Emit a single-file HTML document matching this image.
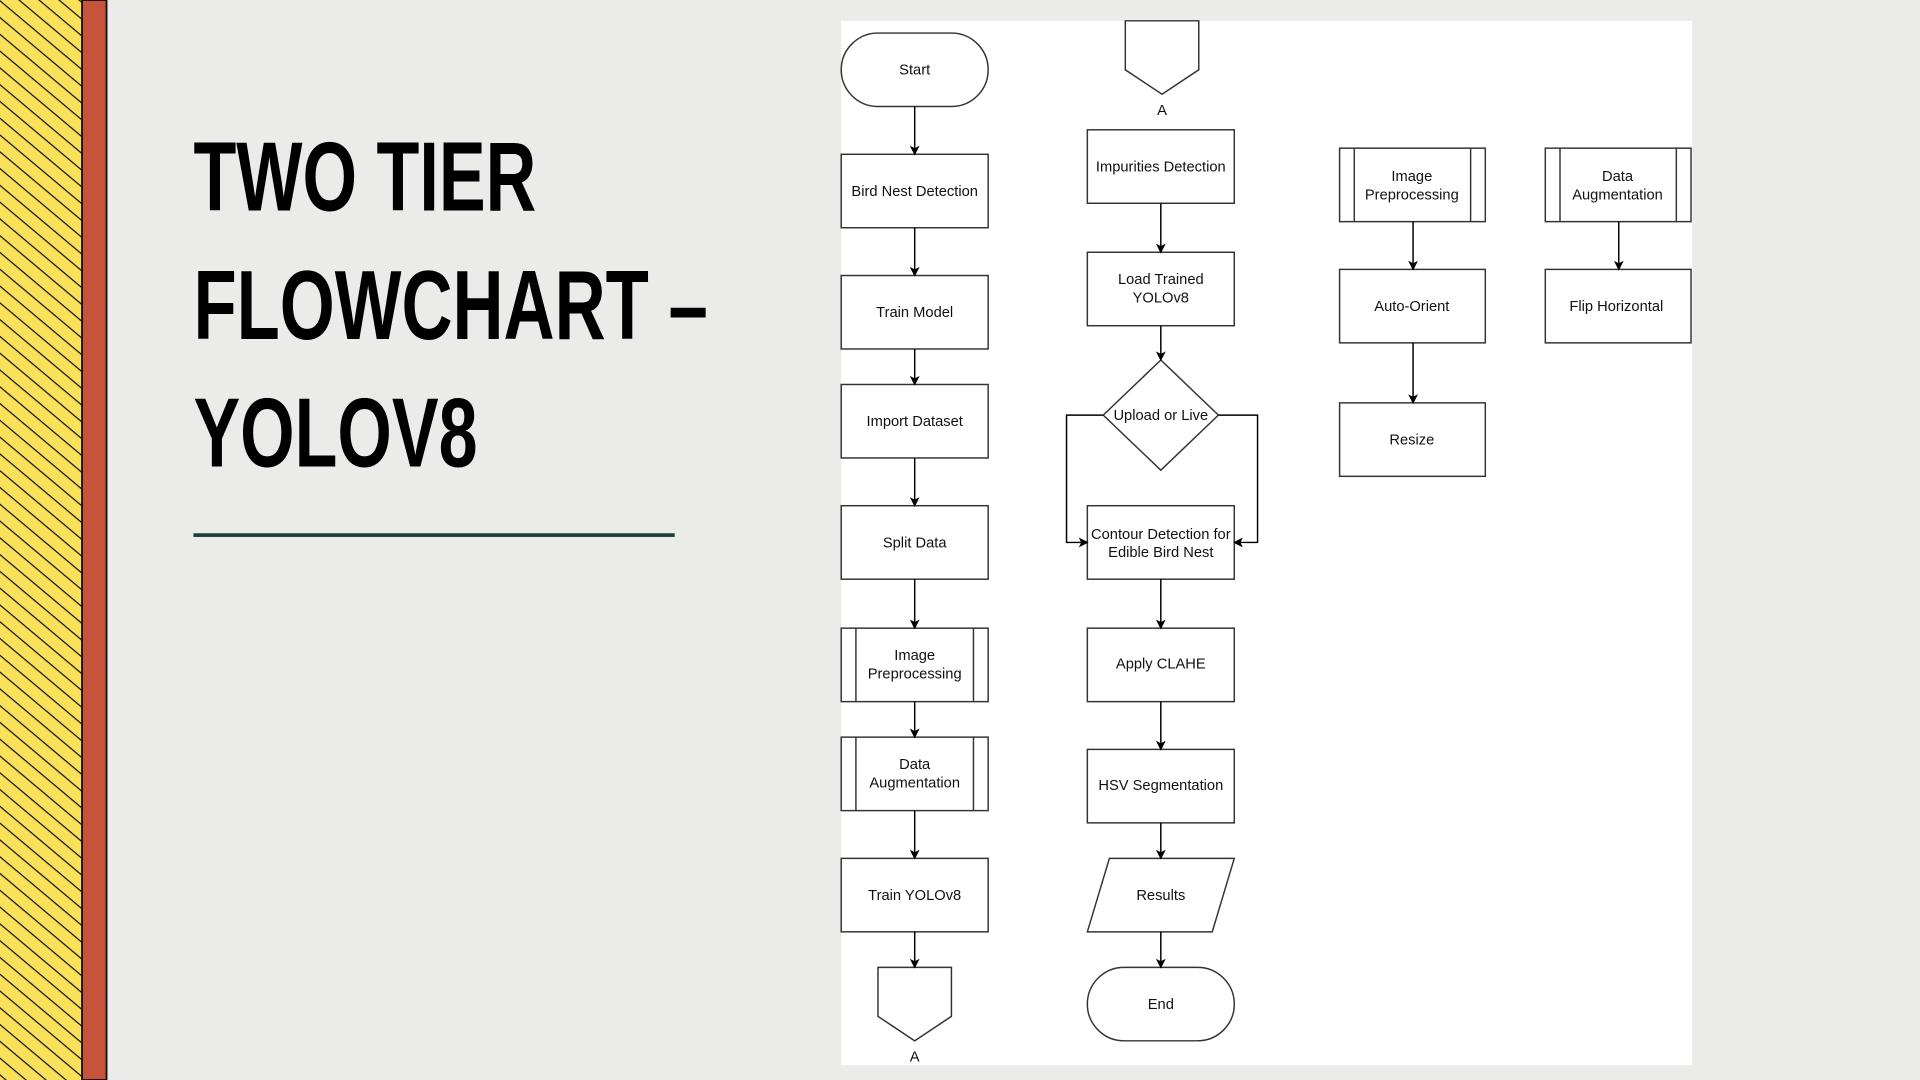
<!DOCTYPE html>
<html><head><meta charset="utf-8"><style>
html,body{margin:0;padding:0;width:1920px;height:1080px;overflow:hidden;background:#ebebea}
svg{display:block}
</style></head><body>
<svg width="1920" height="1080" viewBox="0 0 1568 882" xmlns="http://www.w3.org/2000/svg">
<defs>
<pattern id="h" patternUnits="userSpaceOnUse" width="10.5" height="10.5" patternTransform="rotate(40)">
<rect width="10.5" height="10.5" fill="#fbe05a"/>
<line x1="0" y1="0" x2="10.5" y2="0" stroke="#111" stroke-width="2"/>
</pattern>
<marker id="a" markerWidth="8" markerHeight="8" refX="7" refY="4" orient="auto" markerUnits="userSpaceOnUse">
<path d="M0,0 L8,4 L0,8 L2,4 Z" fill="#000"/>
</marker>
</defs>
<rect width="1568" height="882" fill="#ebebea"/>
<rect x="0" y="0" width="68" height="882" fill="url(#h)"/>
<rect x="67" y="0" width="20" height="882" fill="#c6533a" stroke="#111" stroke-width="1.5"/>
<g font-family="'Liberation Sans Narrow','Liberation Sans',sans-serif" font-weight="bold" font-size="80" fill="#000">
<text x="158" y="172" textLength="280" lengthAdjust="spacingAndGlyphs">TWO TIER</text>
<text x="158" y="277" textLength="420" lengthAdjust="spacingAndGlyphs">FLOWCHART –</text>
<text x="158" y="381" textLength="232" lengthAdjust="spacingAndGlyphs">YOLOV8</text>
</g>
<rect x="158" y="435.5" width="393" height="3" fill="#1d3c3c"/>
<rect x="687" y="17" width="695" height="853" fill="#fff"/>
<g fill="#fff" stroke="#333" stroke-width="1.2">
<rect x="687" y="27" width="120" height="60" rx="30"/>
<rect x="687" y="126" width="120" height="60"/>
<rect x="687" y="225" width="120" height="60"/>
<rect x="687" y="314" width="120" height="60"/>
<rect x="687" y="413" width="120" height="60"/>
<rect x="687" y="513" width="120" height="60"/><line x1="699" y1="513" x2="699" y2="573"/><line x1="795" y1="513" x2="795" y2="573"/>
<rect x="687" y="602" width="120" height="60"/><line x1="699" y1="602" x2="699" y2="662"/><line x1="795" y1="602" x2="795" y2="662"/>
<rect x="687" y="701" width="120" height="60"/>
<path d="M717,790 H777 V830 L747,850 L717,830 Z"/>
<path d="M919,17 H979 V57 L949,77 L919,57 Z"/>
<rect x="888" y="106" width="120" height="60"/>
<rect x="888" y="206" width="120" height="60"/>
<path d="M948,294 L995,339 L948,384 L901,339 Z"/>
<rect x="888" y="413" width="120" height="60"/>
<rect x="888" y="513" width="120" height="60"/>
<rect x="888" y="612" width="120" height="60"/>
<path d="M906,701 H1008 L990,761 H888 Z"/>
<rect x="888" y="790" width="120" height="60" rx="30"/>
<rect x="1094" y="121" width="119" height="60"/><line x1="1106" y1="121" x2="1106" y2="181"/><line x1="1201" y1="121" x2="1201" y2="181"/>
<rect x="1094" y="220" width="119" height="60"/>
<rect x="1094" y="329" width="119" height="60"/>
<rect x="1262" y="121" width="119" height="60"/><line x1="1274" y1="121" x2="1274" y2="181"/><line x1="1369" y1="121" x2="1369" y2="181"/>
<rect x="1262" y="220" width="119" height="60"/>
</g>
<g stroke="#000" stroke-width="1.2" fill="none" marker-end="url(#a)">
<line x1="747" y1="87" x2="747" y2="126"/>
<line x1="747" y1="186" x2="747" y2="225"/>
<line x1="747" y1="285" x2="747" y2="314"/>
<line x1="747" y1="374" x2="747" y2="413"/>
<line x1="747" y1="473" x2="747" y2="513"/>
<line x1="747" y1="573" x2="747" y2="602"/>
<line x1="747" y1="662" x2="747" y2="701"/>
<line x1="747" y1="761" x2="747" y2="790"/>
<line x1="948" y1="166" x2="948" y2="206"/>
<line x1="948" y1="266" x2="948" y2="294"/>
<polyline points="901,339 871,339 871,443 888,443"/>
<polyline points="995,339 1027,339 1027,443 1008,443"/>
<line x1="948" y1="473" x2="948" y2="513"/>
<line x1="948" y1="573" x2="948" y2="612"/>
<line x1="948" y1="672" x2="948" y2="701"/>
<line x1="948" y1="761" x2="948" y2="790"/>
<line x1="1154" y1="181" x2="1154" y2="220"/>
<line x1="1154" y1="280" x2="1154" y2="329"/>
<line x1="1322" y1="181" x2="1322" y2="220"/>
</g>
<g font-family="'Liberation Sans',Arial,sans-serif" font-size="12" fill="#111" text-anchor="middle">
<text x="747" y="61">Start</text>
<text x="747" y="160">Bird Nest Detection</text>
<text x="747" y="259">Train Model</text>
<text x="747" y="348">Import Dataset</text>
<text x="747" y="447">Split Data</text>
<text x="747" y="539">Image</text><text x="747" y="554">Preprocessing</text>
<text x="747" y="628">Data</text><text x="747" y="643">Augmentation</text>
<text x="747" y="735">Train YOLOv8</text>
<text x="747" y="867">A</text>
<text x="949" y="94">A</text>
<text x="948" y="140">Impurities Detection</text>
<text x="948" y="232">Load Trained</text><text x="948" y="247">YOLOv8</text>
<text x="948" y="343">Upload or Live</text>
<text x="948" y="440">Contour Detection for</text><text x="948" y="455">Edible Bird Nest</text>
<text x="948" y="546">Apply CLAHE</text>
<text x="948" y="645">HSV Segmentation</text>
<text x="948" y="735">Results</text>
<text x="948" y="824">End</text>
<text x="1153" y="148">Image</text><text x="1153" y="163">Preprocessing</text>
<text x="1153" y="254">Auto-Orient</text>
<text x="1153" y="363">Resize</text>
<text x="1321" y="148">Data</text><text x="1321" y="163">Augmentation</text>
<text x="1320" y="254">Flip Horizontal</text>
</g>
</svg>
</body></html>
